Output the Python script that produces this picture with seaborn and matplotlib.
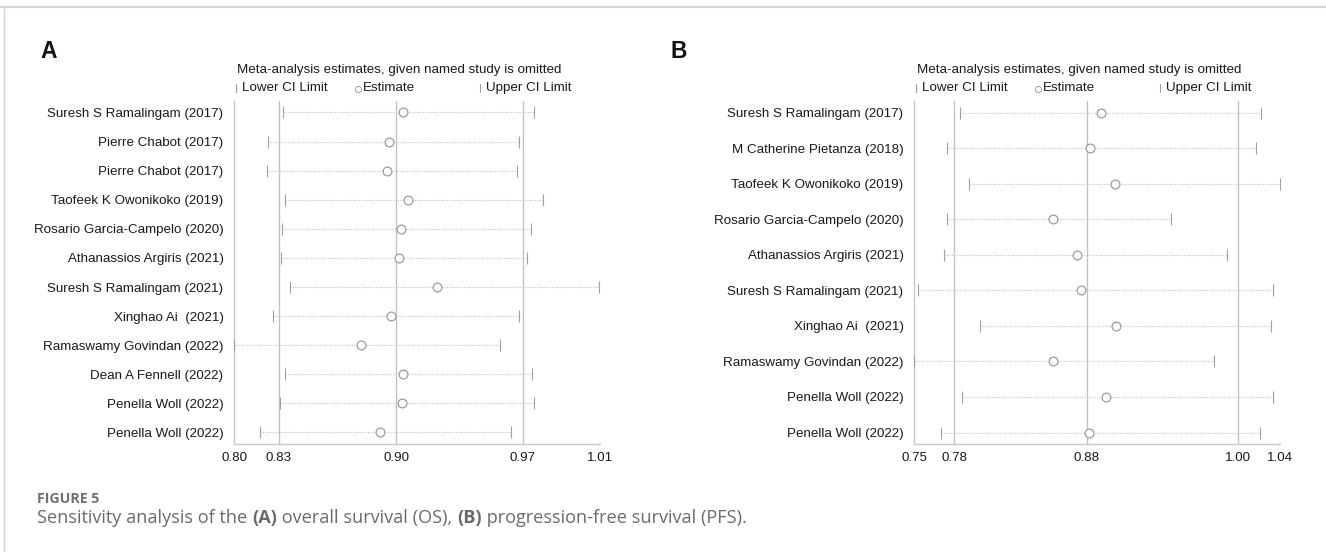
import matplotlib
matplotlib.use('Agg')
import matplotlib.pyplot as plt
from matplotlib.lines import Line2D
import seaborn as sns
import numpy as np

# Panel A: overall survival (OS), leave-one-out estimates
names_a = ['Suresh S Ramalingam (2017)', 'Pierre Chabot (2017)', 'Pierre Chabot (2017)',
           'Taofeek K Owonikoko (2019)', 'Rosario Garcia-Campelo (2020)', 'Athanassios Argiris (2021)',
           'Suresh S Ramalingam (2021)', 'Xinghao Ai  (2021)', 'Ramaswamy Govindan (2022)',
           'Dean A Fennell (2022)', 'Penella Woll (2022)', 'Penella Woll (2022)']
lower_a = [0.8282, 0.8196, 0.8188, 0.8292, 0.8273, 0.8270, 0.8321, 0.8224, 0.8000, 0.8292, 0.8263, 0.8147]
est_a = [0.8971, 0.8889, 0.8879, 0.9000, 0.8961, 0.8949, 0.9167, 0.8901, 0.8727, 0.8971, 0.8966, 0.8838]
upper_a = [0.9720, 0.9638, 0.9626, 0.9772, 0.9705, 0.9681, 1.0096, 0.9638, 0.9524, 0.9710, 0.9724, 0.9587]
ticks_a = [0.800, 0.8258, 0.8932, 0.9658, 1.010]
ticklabels_a = ['0.80', '0.83', '0.90', '0.97', '1.01']

# Panel B: progression-free survival (PFS)
names_b = ['Suresh S Ramalingam (2017)', 'M Catherine Pietanza (2018)', 'Taofeek K Owonikoko (2019)',
           'Rosario Garcia-Campelo (2020)', 'Athanassios Argiris (2021)', 'Suresh S Ramalingam (2021)',
           'Xinghao Ai  (2021)', 'Ramaswamy Govindan (2022)', 'Penella Woll (2022)', 'Penella Woll (2022)']
lower_b = [0.7867, 0.7760, 0.7938, 0.7763, 0.7736, 0.7531, 0.8022, 0.7500, 0.7877, 0.7716]
est_b = [0.8978, 0.8897, 0.9089, 0.8604, 0.8789, 0.8823, 0.9099, 0.8604, 0.9025, 0.8890]
upper_b = [1.0247, 1.0207, 1.0400, 0.9536, 0.9981, 1.0344, 1.0325, 0.9877, 1.0344, 1.0240]
ticks_b = [0.750, 0.7817, 0.8871, 1.0067, 1.040]
ticklabels_b = ['0.75', '0.78', '0.88', '1.00', '1.04']

sns.set_style("white")
plt.rcParams['font.family'] = ['Liberation Sans', 'DejaVu Sans']

W, H = 1326, 552
fig = plt.figure(figsize=(W / 100, H / 100), dpi=100)

FS = 9.6
GRID = '#c2c2c2'
MARK = '#a0a0a0'


def fx(px):
    return px / W


def fy(py):
    return 1 - py / H


def draw_panel(left_px, names, lower, est, upper, ticks, ticklabels, letter, letter_x):
    top, bottom, width = 101, 444, 366
    ax = fig.add_axes([fx(left_px), fy(bottom), width / W, (bottom - top) / H])
    n = len(names)
    y = np.arange(n)
    pad = 11.5 / 320 * (n - 1)

    # reference lines at the inner ticks
    for t in ticks[1:-1]:
        ax.axvline(t, color=GRID, lw=1.0, zorder=1)
    ax.axvline(ticks[-1], ymin=0, ymax=4 / (bottom - top), color=GRID, lw=1.0)

    ax.hlines(y, lower, upper, color='#c6c6c6', lw=0.8, linestyle=(0, (1, 1.2)), zorder=2)
    ax.scatter(lower, y, marker='|', s=65, color=MARK, linewidths=0.8, zorder=3)
    ax.scatter(upper, y, marker='|', s=65, color=MARK, linewidths=0.8, zorder=3)
    sns.scatterplot(x=est, y=y, ax=ax, marker='o', s=40, facecolor='white',
                    edgecolor='#9c9c9c', linewidth=0.9, zorder=4, legend=False)

    ax.set_xlim(ticks[0], ticks[-1])
    ax.set_ylim(n - 1 + pad, -pad)
    ax.set_xticks(ticks, ticklabels)
    ax.set_yticks(y, names)
    ax.tick_params(axis='both', length=0, labelsize=FS, colors='#1a1a1a')
    ax.tick_params(axis='x', pad=6)
    ax.tick_params(axis='y', pad=7.5)
    ax.set_xlabel('')
    ax.set_ylabel('')
    for s in ['top', 'right']:
        ax.spines[s].set_visible(False)
    for s in ['left', 'bottom']:
        ax.spines[s].set_color('#c8c8c8')
        ax.spines[s].set_linewidth(1.0)

    # legend block above the plot
    fig.text(fx(left_px + 3), fy(70), 'Meta-analysis estimates, given named study is omitted',
             fontsize=FS, va='center', ha='left', color='#1a1a1a')
    for off, label in [(2, 'Lower CI Limit'), (246, 'Upper CI Limit')]:
        fig.add_artist(Line2D([fx(left_px + off)] * 2, [fy(92), fy(84)],
                              color=MARK, lw=0.8))
        fig.text(fx(left_px + off + 6), fy(88), label, fontsize=FS, va='center', ha='left',
                 color='#1a1a1a')
    fig.add_artist(Line2D([fx(left_px + 124)], [fy(88.5)], marker='o', ms=4.4,
                          mfc='white', mec=MARK, mew=0.7, lw=0))
    fig.text(fx(left_px + 129), fy(88), 'Estimate', fontsize=FS, va='center', ha='left',
             color='#1a1a1a')

    fig.text(fx(letter_x), fy(52), letter, fontsize=16.5, fontweight='bold',
             va='center', ha='left', color='#111111')
    return ax


draw_panel(234, names_a, lower_a, est_a, upper_a, ticks_a, ticklabels_a, 'A', 40)
draw_panel(914, names_b, lower_b, est_b, upper_b, ticks_b, ticklabels_b, 'B', 671)

# card border
fig.add_artist(Line2D([fx(0), fx(W)], [fy(7), fy(7)], color='#d6d6d6', lw=1.6))
fig.add_artist(Line2D([fx(4), fx(4)], [fy(7), fy(H)], color='#d6d6d6', lw=1.0))

# caption
cap_color = '#6a6a6a'
cap_font = ['Open Sans', 'DejaVu Sans']
fig.text(fx(37), fy(499), 'FIGURE 5', fontsize=10.2, family=cap_font, fontweight='bold',
         color='#707070', va='center', ha='left')
parts = [('Sensitivity analysis of the ', 'normal'), ('(A)', 'bold'),
         (' overall survival (OS), ', 'normal'), ('(B)', 'bold'),
         (' progression-free survival (PFS).', 'normal')]
renderer = fig.canvas.get_renderer()
x = fx(37)
for txt, wt in parts:
    t = fig.text(x, fy(523), txt, fontsize=13.1, family=cap_font, fontweight=wt,
                 color=cap_color, va='baseline', ha='left')
    bb = t.get_window_extent(renderer=renderer)
    x += bb.width / W

plt.savefig('out.png', dpi=100)
